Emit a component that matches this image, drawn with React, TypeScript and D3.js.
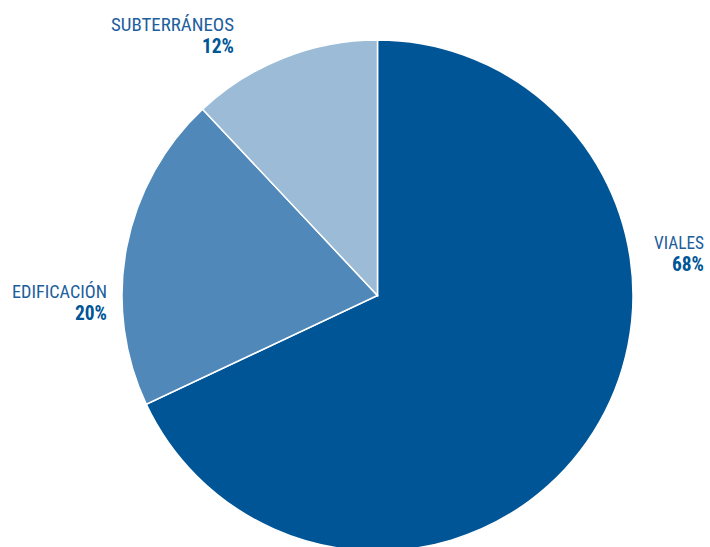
import React from "react";
import * as d3 from "d3";

const categories = ["VIALES", "EDIFICACIÓN", "SUBTERRÁNEOS"];
const values = [68, 20, 12];
const labels = ["68%", "20%", "12%"];
const colors = ["#005596", "#4f88b9", "#9bbbd7"];

const W = 710;
const H = 547;
const cx = 377.5;
const cy = 295.5;
const R = 255.5;

// label anchor positions (right-aligned)
const labelPos = [
  { x: 704, y: 249, w: 50 },
  { x: 107, y: 298, w: 95 },
  { x: 234, y: 31, w: 123 },
];

export default function App() {
  const pie = d3.pie<number>().sort(null).value((d) => d)(values);
  const arc = d3.arc<d3.PieArcDatum<number>>().innerRadius(0).outerRadius(R);
  const font = "'Roboto Condensed', 'Liberation Sans Narrow', 'Arial Narrow', sans-serif";
  return (
    <svg
      width={W}
      height={H}
      style={{ position: "absolute", left: 0, top: 0, background: "#fff" }}
    >
      <g transform={`translate(${cx},${cy})`}>
        {pie.map((p, i) => (
          <path key={i} d={arc(p) || ""} fill={colors[i]} stroke="#fff" strokeWidth={1.5} />
        ))}
      </g>
      {categories.map((c, i) => (
        <g key={c} fontFamily={font} textAnchor="end">
          <text
            x={labelPos[i].x}
            y={labelPos[i].y}
            fontSize={18.5}
            fill="#1d5e9c"
            textLength={labelPos[i].w}
            lengthAdjust="spacingAndGlyphs"
          >
            {c}
          </text>
          <text
            x={labelPos[i].x}
            y={labelPos[i].y + 22}
            fontSize={19.5}
            fontWeight="bold"
            fill="#005596"
            textLength={32}
            lengthAdjust="spacingAndGlyphs"
          >
            {labels[i]}
          </text>
        </g>
      ))}
    </svg>
  );
}
